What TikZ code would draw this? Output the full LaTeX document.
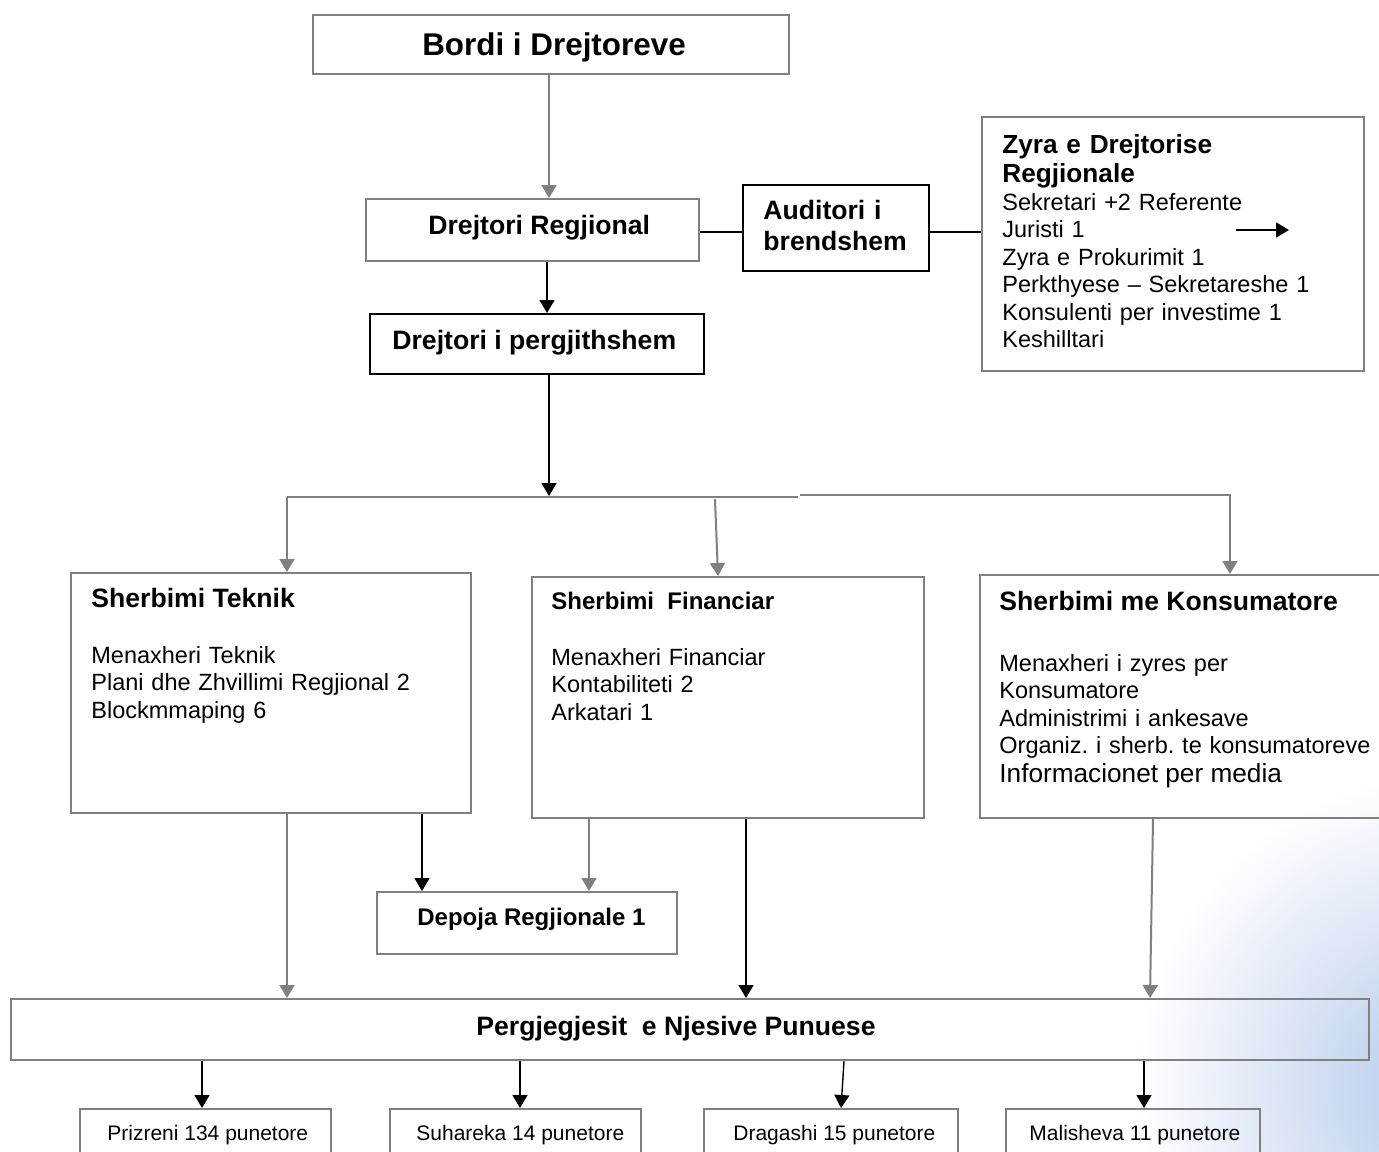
\documentclass[tikz,border=0pt]{standalone}
\usepackage{fontspec}
\setmainfont{Liberation Sans}
\usetikzlibrary{arrows.meta}
\definecolor{bx}{HTML}{808080}
\definecolor{bluish}{RGB}{178,200,234}
\frenchspacing
\begin{document}
\frenchspacing
\begin{tikzpicture}[x=0.5pt,y=-0.5pt,
  gbox/.style={draw=bx,line width=1.1pt,inner sep=0pt,anchor=north west},
  kbox/.style={draw=black,line width=0.9pt,inner sep=0pt,anchor=north west},
  garrow/.style={draw=bx,line width=1pt,-{Triangle[length=6.5pt,width=7.5pt]}},
  karrow/.style={draw=black,line width=0.7pt,-{Triangle[length=6.5pt,width=7.5pt]}},
  gline/.style={draw=bx,line width=1.2pt},
  kline/.style={draw=black,line width=0.7pt},
  txt/.style={inner sep=0pt,anchor=base west},
  blk/.style={inner sep=0pt,anchor=base west,align=left,text width=#1},
  fbig/.style={font=\fontsize{15.7}{18}\selectfont\bfseries},
  fhd/.style={font=\fontsize{13.3}{15.5}\selectfont\bfseries},
  fhd12/.style={font=\fontsize{12}{14}\selectfont\bfseries},
  fbody/.style={font=\fontsize{11.75}{13.75}\selectfont\frenchspacing},
  fmed/.style={font=\fontsize{13.1}{15}\selectfont},
  fsm/.style={font=\fontsize{10.5}{12}\selectfont}]
\useasboundingbox (0,0) rectangle (1379,1151);
% faint background decoration
\shade[inner color=bluish,outer color=white] (1445,1085) circle (155pt);

% boxes
\node[gbox,minimum width=238pt,minimum height=29.5pt] (bordi) at (312,14) {};
\node[gbox,minimum width=166.5pt,minimum height=31pt] (dreg) at (365,198) {};
\node[kbox,minimum width=93pt,minimum height=43pt] (aud) at (742,184) {};
\node[gbox,minimum width=191pt,minimum height=127pt] (zyra) at (981,116) {};
\node[kbox,minimum width=167pt,minimum height=30pt] (dpergj) at (369,313) {};
\node[gbox,minimum width=200pt,minimum height=120pt] (teknik) at (70,572) {};
\node[gbox,minimum width=196pt,minimum height=120.5pt] (fin) at (531,576) {};
\node[gbox,minimum width=210pt,minimum height=121.5pt] (kons) at (979,574) {};
\node[gbox,minimum width=150pt,minimum height=31pt] (depoja) at (376,891) {};
\node[gbox,minimum width=679pt,minimum height=30.5pt] (pergj) at (10,998) {};
\node[gbox,minimum width=125.5pt,minimum height=30pt] (prz) at (79,1108) {};
\node[gbox,minimum width=125.5pt,minimum height=30pt] (suh) at (389,1108) {};
\node[gbox,minimum width=127pt,minimum height=30pt] (drg) at (703,1108) {};
\node[gbox,minimum width=127pt,minimum height=30pt] (mal) at (1005,1108) {};

% texts
\node[inner sep=0pt,anchor=base,fbig] (tbordi) at (554,55) {Bordi i Drejtoreve};
\node[txt,fhd] (tdreg) at (428,234) {Drejtori Regjional};
\node[blk=90pt,font=\fontsize{13.3}{15.5}\selectfont\bfseries] (taud) at (763,219) {Auditori i\\brendshem};
\node[blk=180pt,font=\fontsize{13.1}{14.5}\selectfont\bfseries] (tzyra) at (1002,153) {Zyra e Drejtorise\\Regjionale};
\node[blk=185pt,fbody] (bzyra) at (1002,210) {Sekretari +2 Referente\\Juristi 1\\Zyra e Prokurimit 1\\Perkthyese -- Sekretareshe 1\\Konsulenti per investime 1\\Keshilltari};
\node[txt,fhd] (tdpergj) at (392,349) {Drejtori i pergjithshem};
\node[txt,fhd] (tteknik) at (91,607) {Sherbimi Teknik};
\node[blk=190pt,fbody] (bteknik) at (91,663) {Menaxheri Teknik\\Plani dhe Zhvillimi Regjional 2\\Blockmmaping 6};
\node[txt,fhd12] (tfin) at (551,609) {Sherbimi\ \ Financiar};
\node[blk=180pt,fbody] (bfin) at (551,665) {Menaxheri Financiar\\Kontabiliteti 2\\Arkatari 1};
\node[txt,fhd] (tkons) at (999,610) {Sherbimi me Konsumatore};
\node[blk=195pt,fbody] (bkons) at (999,671) {Menaxheri i zyres per\\Konsumatore\\Administrimi i ankesave\\Organiz. i sherb. te konsumatoreve};
\node[txt,fmed] (tmedia) at (999,782) {Informacionet per media};
\node[txt,fhd12] (tdepoja) at (417,925) {Depoja Regjionale 1};
\node[txt,fhd] (tpergj) at (476,1035) {Pergjegjesit\ \ e Njesive Punuese};
\node[txt,fsm] (tprz) at (107,1140) {Prizreni 134 punetore};
\node[txt,fsm] (tsuh) at (416,1140) {Suhareka 14 punetore};
\node[txt,fsm] (tdrg) at (733,1140) {Dragashi 15 punetore};
\node[txt,fsm] (tmal) at (1029,1140) {Malisheva 11 punetore};

% connectors
\draw[garrow] (549,0 |- bordi.south) -- (549,0 |- dreg.north);
\draw[kline] (dreg.east |- 0,232) -- (aud.west |- 0,232);
\draw[kline] (aud.east |- 0,232) -- (zyra.west |- 0,232);
\coordinate (za1) at (1236,230);
\coordinate (za2) at (1289,230);
\draw[karrow] (za1) -- (za2);
\draw[karrow] (547,0 |- dreg.south) -- (547,0 |- dpergj.north);
\coordinate (busc) at (549,496);
\draw[karrow] (549,0 |- dpergj.south) -- (busc);
\coordinate (busl) at (287,497);
\coordinate (busm) at (798,497);
\coordinate (busn) at (800,495);
\coordinate (busr) at (1231,495);
\draw[gline] (busl) -- (busm);
\draw[gline] (busn) -- (busr);
\coordinate (busf) at (715,499);
\draw[garrow] (busl) -- (287,0 |- teknik.north);
\draw[garrow] (busf) -- (718,0 |- fin.north);
\draw[garrow] (1230,495) -- (1230,0 |- kons.north);
\draw[karrow] (422,0 |- teknik.south) -- (422,0 |- depoja.north);
\draw[garrow] (589,0 |- fin.south) -- (589,0 |- depoja.north);
\draw[garrow] (287,0 |- teknik.south) -- (287,0 |- pergj.north);
\draw[karrow] (746,0 |- fin.south) -- (746,0 |- pergj.north);
\draw[garrow] (1153,0 |- kons.south) -- (1150,0 |- pergj.north);
\draw[karrow] (202,0 |- pergj.south) -- (202,0 |- prz.north);
\draw[karrow] (520,0 |- pergj.south) -- (520,0 |- suh.north);
\draw[karrow] (844,0 |- pergj.south) -- (841,0 |- drg.north);
\draw[karrow] (1144,0 |- pergj.south) -- (1144,0 |- mal.north);
\end{tikzpicture}
\end{document}
